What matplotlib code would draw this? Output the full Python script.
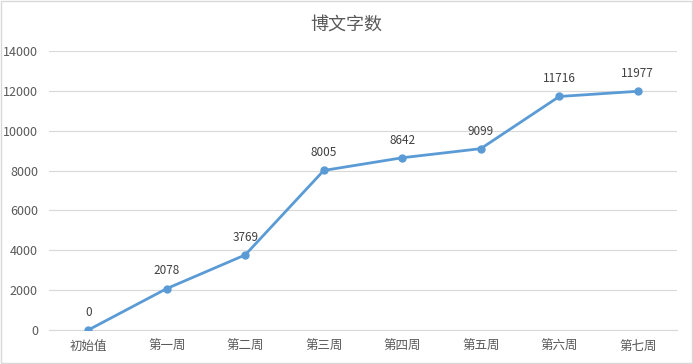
import matplotlib
matplotlib.use('Agg')
import matplotlib.pyplot as plt
from matplotlib.patches import Rectangle

plt.rcParams['font.family'] = ['Noto Sans CJK SC', 'DejaVu Sans']

weeks = ['初始值', '第一周', '第二周', '第三周', '第四周', '第五周', '第六周', '第七周']
word_counts = [0, 2078, 3769, 8005, 8642, 9099, 11716, 11977]
y_ticks = [0, 2000, 4000, 6000, 8000, 10000, 12000, 14000]

line_color = '#5B9BD5'
text_color = '#595959'
grid_color = '#D9D9D9'

fig = plt.figure(figsize=(6.93, 3.64), dpi=100)
ax = fig.add_axes([0.0707, 0.0934, 0.9063, 0.7666])

x = range(len(weeks))
ax.plot(x, word_counts, color=line_color, lw=2.0, marker='o', ms=5, zorder=3)

for xi, v in zip(x, word_counts):
    ax.annotate(str(v), (xi, v), xytext=(0, 8), textcoords='offset points',
                ha='center', va='bottom', fontsize=8.5, color='#404040')

ax.set_xlim(-0.5, len(weeks) - 0.5)
ax.set_ylim(0, 14000)
ax.set_yticks(y_ticks)
ax.set_xticks(list(x))
ax.set_xticklabels(weeks)
ax.tick_params(axis='both', length=0, labelsize=9, colors=text_color)
ax.tick_params(axis='y', pad=8)
ax.tick_params(axis='x', pad=7)
ax.grid(axis='y', color=grid_color, lw=0.8)
ax.set_axisbelow(True)
for s in ['top', 'right', 'left']:
    ax.spines[s].set_visible(False)
ax.spines['bottom'].set_color(grid_color)
ax.spines['bottom'].set_linewidth(0.8)

fig.text(0.5, 0.93, '博文字数', ha='center', va='center', fontsize=13, color=text_color)

fig.patches.append(Rectangle((0.001, 0.003), 0.997, 0.994, transform=fig.transFigure,
                             fill=False, ec='#D9D9D9', lw=1.0))

fig.savefig('out.png', dpi=100)
